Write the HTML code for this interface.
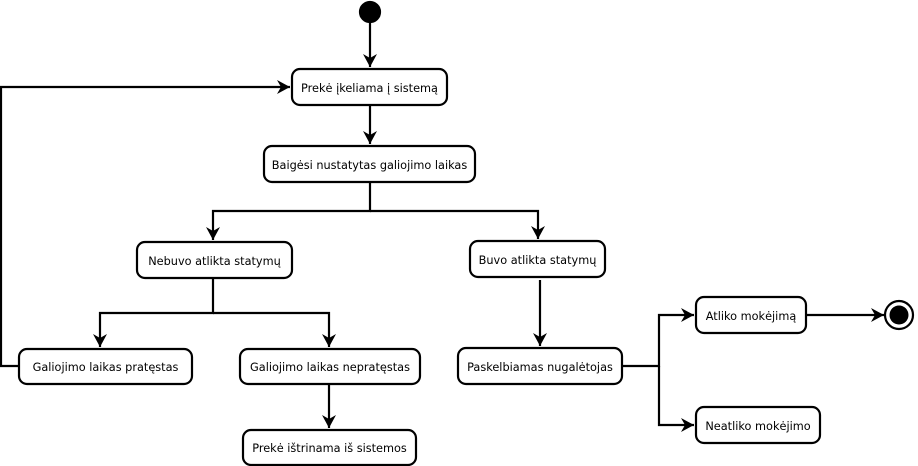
<!DOCTYPE html>
<html><head><meta charset="utf-8"><style>
html,body{margin:0;padding:0;background:#fff;}
svg{display:block;}
text{font-family:"DejaVu Sans","Liberation Sans",sans-serif;font-size:11.3px;fill:#000;}
</style></head><body>
<svg width="918" height="466" viewBox="0 0 918 466" xmlns="http://www.w3.org/2000/svg">
<defs><marker id="a" markerWidth="14" markerHeight="14" refX="13" refY="7" orient="auto" markerUnits="userSpaceOnUse"><path d="M0,0 L13,7 L0,14 L4,7 Z" fill="#000"/></marker></defs>
<g stroke="#000" stroke-width="2.2" fill="none">
<circle cx="370" cy="12" r="10" fill="#000"/>
<path d="M370 22 V67" marker-end="url(#a)"/>
<path d="M370 105 V144" marker-end="url(#a)"/>
<path d="M370 182 V211 H213 V240" marker-end="url(#a)"/>
<path d="M370 211 H538 V239" marker-end="url(#a)"/>
<path d="M213 278 V313 H100 V347" marker-end="url(#a)"/>
<path d="M213 313 H329 V347" marker-end="url(#a)"/>
<path d="M329 384 V428" marker-end="url(#a)"/>
<path d="M19 366 H1 V87 H290" marker-end="url(#a)"/>
<path d="M540 280 V346" marker-end="url(#a)"/>
<path d="M622 366 H659 V315 H694" marker-end="url(#a)"/>
<path d="M659 366 V425 H694" marker-end="url(#a)"/>
<path d="M806 315 H884" marker-end="url(#a)"/>
<circle cx="899" cy="315" r="14" fill="#fff"/>
<circle cx="899" cy="315" r="9.5" fill="#000" stroke="none"/>
<rect x="292" y="69" width="155" height="36" rx="8" fill="#fff"/>
<rect x="264" y="146" width="211" height="36" rx="8" fill="#fff"/>
<rect x="137" y="242" width="155" height="36" rx="8" fill="#fff"/>
<rect x="470" y="241" width="135" height="36" rx="8" fill="#fff"/>
<rect x="19" y="349" width="173" height="35" rx="8" fill="#fff"/>
<rect x="240" y="349" width="180" height="35" rx="8" fill="#fff"/>
<rect x="458" y="348" width="164" height="36" rx="8" fill="#fff"/>
<rect x="243" y="430" width="173" height="35" rx="8" fill="#fff"/>
<rect x="696" y="297" width="110" height="36" rx="8" fill="#fff"/>
<rect x="696" y="407" width="124" height="36" rx="8" fill="#fff"/>
</g>
<g text-anchor="middle">
<text x="369.5" y="92">Prekė įkeliama į sistemą</text>
<text x="369.5" y="169">Baigėsi nustatytas galiojimo laikas</text>
<text x="214.5" y="265">Nebuvo atlikta statymų</text>
<text x="537.5" y="264">Buvo atlikta statymų</text>
<text x="105.5" y="371">Galiojimo laikas pratęstas</text>
<text x="330" y="371">Galiojimo laikas nepratęstas</text>
<text x="540" y="371">Paskelbiamas nugalėtojas</text>
<text x="329.5" y="452">Prekė ištrinama iš sistemos</text>
<text x="751" y="320">Atliko mokėjimą</text>
<text x="758" y="430">Neatliko mokėjimo</text>
</g>
</svg>
</body></html>
